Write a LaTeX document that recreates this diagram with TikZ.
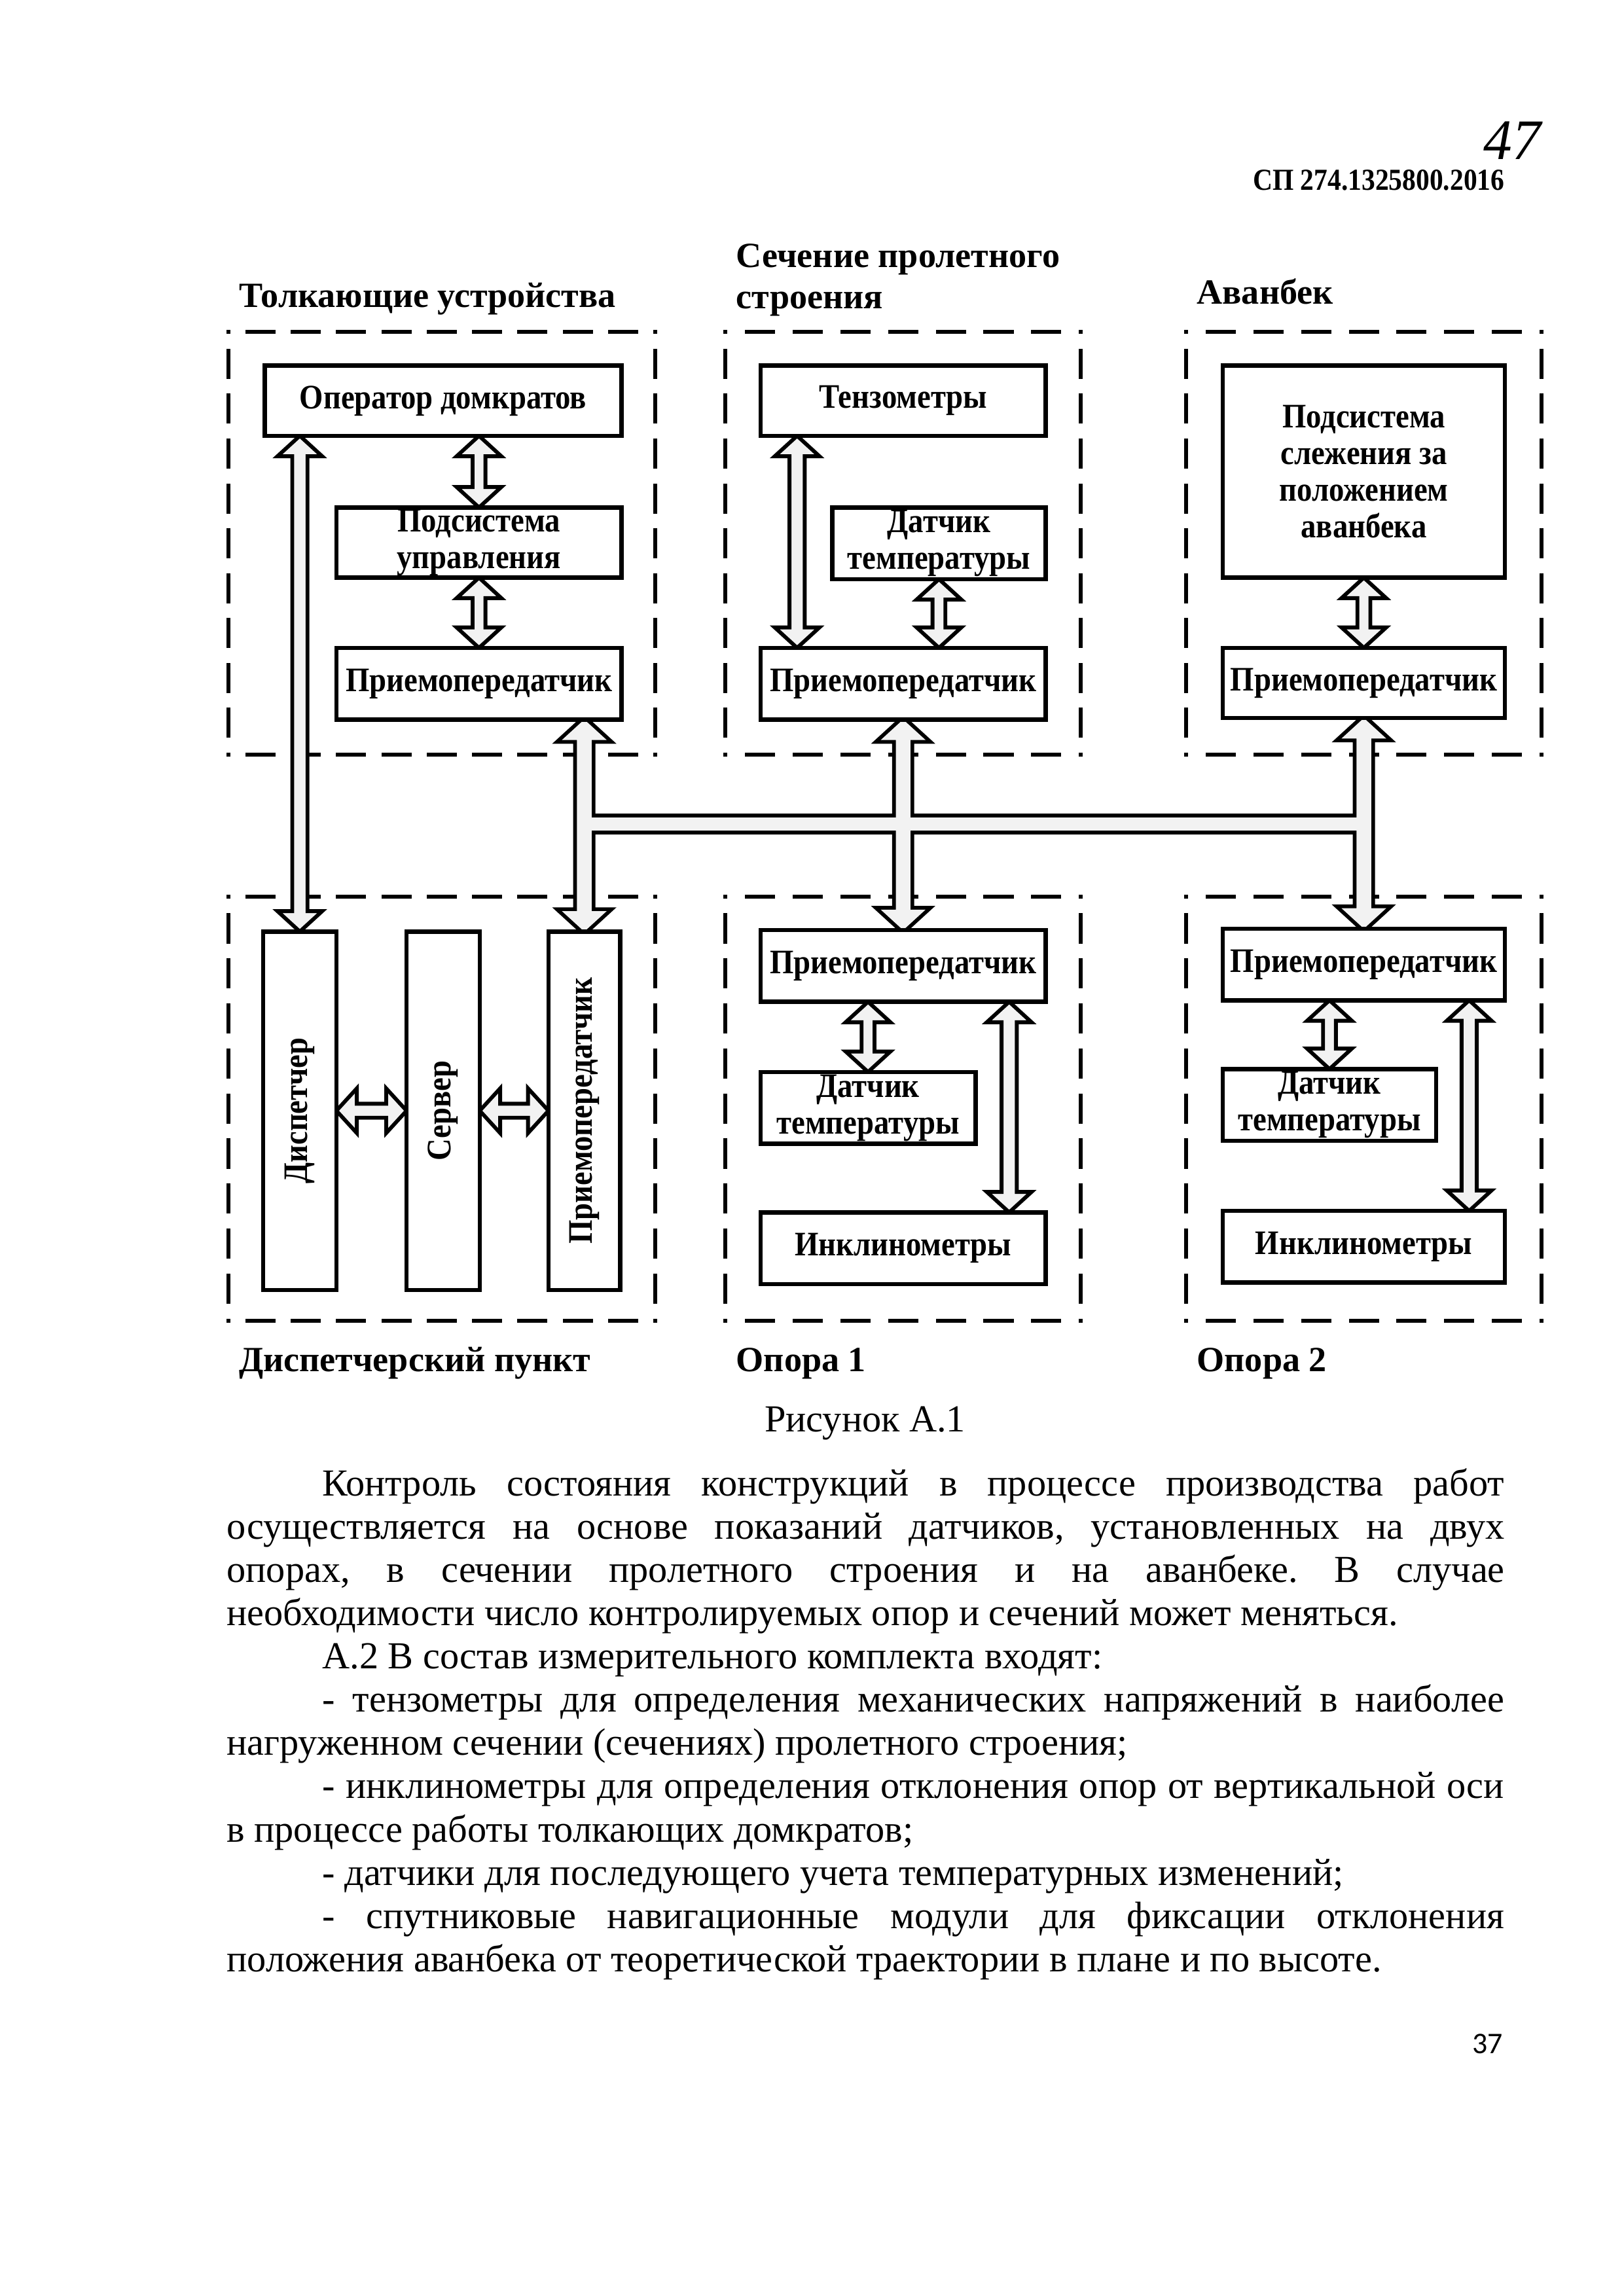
\documentclass[tikz,border=0pt]{standalone}
\usepackage{fontspec}
\usepackage{graphicx}
\setmainfont{Liberation Serif}
\newfontfamily\diagfont[FakeStretch=0.89]{Liberation Serif}
\newfontfamily\pgnumfont{Carlito}
\usetikzlibrary{calc,backgrounds,decorations}
\frenchspacing
\newcommand\lbl{\diagfont\fontsize{12.6}{13.4}\selectfont\bfseries}
% box node: style, name, x1, y1, x2, y2, text
\newcommand\bx[7]{\node[#1,minimum width={(#5-#3)*0.5363pt},minimum height={(#6-#4)*0.5363pt}] (#2) at ({(#3+#5)/2},{(#4+#6)/2}) {#7};}
% dashed frame drawn side by side
\newcommand\dframe[1]{%
  \draw[dsh] (#1.north west) -- (#1.north east);
  \draw[dsh] (#1.north east) -- (#1.south east);
  \draw[dsh] (#1.south east) -- (#1.south west);
  \draw[dsh] (#1.south west) -- (#1.north west);}
% vertical double block arrow: style, half shaft, top point, bottom point
\newcommand\varr[4]{%
  \path[#1] let \p1=(#3), \p2=(#4) in
  (\x1,\y1) -- (\x1+8.2pt,\y1-7.5pt) -- (\x1+#2,\y1-7.5pt) -- (\x1+#2,\y2+7.5pt) -- (\x1+8.2pt,\y2+7.5pt) -- (\x1,\y2) -- (\x1-8.2pt,\y2+7.5pt) -- (\x1-#2,\y2+7.5pt) -- (\x1-#2,\y1-7.5pt) -- (\x1-8.2pt,\y1-7.5pt) -- cycle;}
% horizontal double block arrow: style, half shaft, left point, right point
\newcommand\harr[4]{%
  \path[#1] let \p1=(#3), \p2=(#4) in
  (\x1,\y1) -- (\x1+7.5pt,\y1+8.2pt) -- (\x1+7.5pt,\y1+#2) -- (\x2-7.5pt,\y1+#2) -- (\x2-7.5pt,\y1+8.2pt) -- (\x2,\y1) -- (\x2-7.5pt,\y1-8.2pt) -- (\x2-7.5pt,\y1-#2) -- (\x1+7.5pt,\y1-#2) -- (\x1+7.5pt,\y1-8.2pt) -- cycle;}
\begin{document}
\begin{tikzpicture}[x=0.5363pt,y=-0.5363pt,
  bbox/.style={draw,line width=1.55pt,fill=white,inner sep=0pt,outer sep=0pt,align=center,font=\lbl},
  grp/.style={inner sep=0pt,outer sep=0pt},
  dsh/.style={line width=1.45pt,dash pattern=on 9.6pt off 6.4pt,dash expand off,line cap=rect},
  arr/.style={draw,line width=1.4pt,fill=black!5,line join=miter},
  busS/.style={draw,line width=2.8pt,line join=miter},
  busF/.style={fill=black!5},
  ttl/.style={inner sep=0pt,anchor=base west,font=\bfseries\fontsize{13}{15}\selectfont},
  body/.style={inner sep=0pt,anchor=base west,font=\fontsize{14}{16}\selectfont}]
\useasboundingbox (0,0) rectangle (1110,1570);

% header
\node[inner sep=0pt,font=\fontsize{21}{21}\selectfont\itshape] (hw) at (1034,96) {47};
\node[inner sep=0pt,anchor=base east,font=\diagfont\fontsize{11.2}{12}\selectfont\bfseries] (std) at (1029,130) {СП 274.1325800.2016};

% group titles
\node[ttl] (t1) at (163,210) {Толкающие устройства};
\node[ttl] (t2a) at (503,183) {Сечение пролетного};
\node[ttl] (t2b) at (503,211) {строения};
\node[ttl] (t3) at (818,208) {Аванбек};
\node[ttl] (b1) at (163,938) {Диспетчерский пункт};
\node[ttl] (b2) at (503,938) {Опора 1};
\node[ttl] (b3) at (818,938) {Опора 2};

% group frames (invisible nodes, dashed sides drawn on background)
\bx{grp}{g1}{156}{227}{448}{516}{}
\bx{grp}{g2}{496}{227}{739}{516}{}
\bx{grp}{g3}{811}{227}{1054}{516}{}
\bx{grp}{g4}{156}{613}{448}{903}{}
\bx{grp}{g5}{496}{613}{739}{903}{}
\bx{grp}{g6}{811}{613}{1054}{903}{}

% top row boxes
\bx{bbox}{op}{181}{250}{425}{298}{Оператор домкратов}
\bx{bbox}{ps}{230}{347}{425}{395}{Подсистема\\управления}
\bx{bbox}{tx1}{230}{443}{425}{492}{Приемопередатчик}
\bx{bbox}{tz}{520}{250}{715}{298}{Тензометры}
\bx{bbox}{dt2}{569}{347}{715}{396}{Датчик\\температуры}
\bx{bbox}{tx2}{520}{443}{715}{492}{Приемопередатчик}
\bx{bbox}{sl}{836}{250}{1029}{395}{Подсистема\\слежения за\\положением\\аванбека}
\bx{bbox}{tx3}{836}{443}{1029}{491}{Приемопередатчик}

% bottom row boxes
\bx{bbox}{dsp}{180}{637}{230}{882}{\rotatebox{90}{Диспетчер}}
\bx{bbox}{srv}{278}{637}{328}{882}{\rotatebox{90}{Сервер}}
\bx{bbox}{tx4}{375}{637}{424}{882}{\rotatebox{90}{Приемопередатчик}}
\bx{bbox}{tx5}{520}{636}{715}{685}{Приемопередатчик}
\bx{bbox}{dt5}{520}{733}{667}{782}{Датчик\\температуры}
\bx{bbox}{inc5}{520}{829}{715}{878}{Инклинометры}
\bx{bbox}{tx6}{836}{635}{1029}{684}{Приемопередатчик}
\bx{bbox}{dt6}{836}{731}{982}{780}{Датчик\\температуры}
\bx{bbox}{inc6}{836}{828}{1029}{877}{Инклинометры}

\coordinate (tzA) at ($(tz.south west)+(25,0)$);
\coordinate (i5A) at ($(tx5.south east)+(-25,0)$);
\coordinate (i6A) at ($(tx6.south east)+(-24.5,0)$);
\coordinate (busL) at (tx4.north |- 0,559);
\coordinate (busR) at (tx6.north |- 0,568);

\begin{pgfonlayer}{background}
\fill[white] (0,0) rectangle (1110,1570);
\dframe{g1}\dframe{g2}\dframe{g3}\dframe{g4}\dframe{g5}\dframe{g6}
% connectors inside groups
\varr{arr}{2.79pt}{dsp.north |- op.south}{dsp.north}
\varr{arr}{2.36pt}{ps.north |- op.south}{ps.north}
\varr{arr}{2.36pt}{ps.south}{tx1.north}
\varr{arr}{2.79pt}{tzA}{tzA |- tx2.north}
\varr{arr}{2.36pt}{dt2.south}{dt2.south |- tx2.north}
\varr{arr}{2.36pt}{sl.south}{tx3.north}
\varr{arr}{2.36pt}{dt5.north |- tx5.south}{dt5.north}
\varr{arr}{2.79pt}{i5A}{i5A |- inc5.north}
\varr{arr}{2.36pt}{dt6.north |- tx6.south}{dt6.north}
\varr{arr}{2.79pt}{i6A}{i6A |- inc6.north}
\harr{arr}{2.57pt}{dsp.east}{srv.west}
\harr{arr}{2.57pt}{srv.east}{tx4.west}
% bus (union of arrows and band)
\varr{busS}{2.68pt}{tx4.north |- tx1.south}{tx4.north}
\varr{busS}{2.68pt}{tx2.south}{tx5.north}
\varr{busS}{2.68pt}{tx3.south}{tx6.north}
\path[busS] (busL) rectangle (busR);
\varr{busF}{2.68pt}{tx4.north |- tx1.south}{tx4.north}
\varr{busF}{2.68pt}{tx2.south}{tx5.north}
\varr{busF}{2.68pt}{tx3.south}{tx6.north}
\path[busF] (busL) rectangle (busR);
\end{pgfonlayer}

% caption
\node[inner sep=0pt,anchor=base,font=\fontsize{14}{16}\selectfont] (cap) at (591.5,979) {Рисунок А.1};

% body text
\node[body] (l1) at (220,1023) {\makebox[433.4pt][s]{Контроль состояния конструкций в процессе производства работ}};
\node[body] (l2) at (154.7,1052.5) {\makebox[468.6pt][s]{осуществляется на основе показаний датчиков, установленных на двух}};
\node[body] (l3) at (154.7,1082.1) {\makebox[468.6pt][s]{опорах, в сечении пролетного строения и на аванбеке. В случае}};
\node[body] (l4) at (154.7,1111.6) {необходимости число контролируемых опор и сечений может меняться.};
\node[body] (l5) at (220,1141.2) {А.2 В состав измерительного комплекта входят:};
\node[body] (l6) at (220,1170.7) {\makebox[433.4pt][s]{- тензометры для определения механических напряжений в наиболее}};
\node[body] (l7) at (154.7,1200.3) {нагруженном сечении (сечениях) пролетного строения;};
\node[body] (l8) at (220,1229.8) {\makebox[433.4pt][s]{- инклинометры для определения отклонения опор от вертикальной оси}};
\node[body] (l9) at (154.7,1259.4) {в процессе работы толкающих домкратов;};
\node[body] (l10) at (220,1289) {- датчики для последующего учета температурных изменений;};
\node[body] (l11) at (220,1318.5) {\makebox[433.4pt][s]{- спутниковые навигационные модули для фиксации отклонения}};
\node[body] (l12) at (154.7,1348) {положения аванбека от теоретической траектории в плане и по высоте.};

% page number
\node[inner sep=0pt,anchor=base east,font=\pgnumfont\fontsize{11}{13}\selectfont] (pg) at (1028,1404) {37};
\end{tikzpicture}
\end{document}
